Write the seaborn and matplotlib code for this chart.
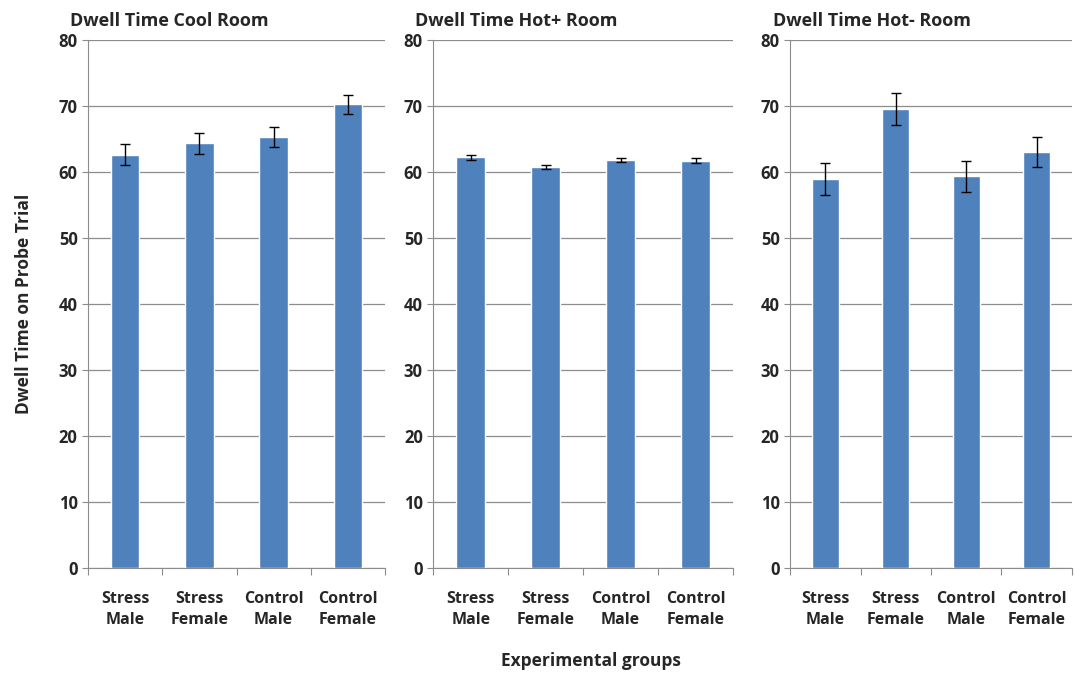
import seaborn as sns
import matplotlib.pyplot as plt
import pandas as pd

groups = ["Stress\nMale", "Stress\nFemale", "Control\nMale", "Control\nFemale"]
titles = ["Dwell Time Cool Room", "Dwell Time Hot+ Room", "Dwell Time Hot- Room"]

cool_mean = [62.6, 64.3, 65.3, 70.2]
cool_err = [1.6, 1.6, 1.5, 1.5]
hotp_mean = [62.2, 60.7, 61.8, 61.7]
hotp_err = [0.4, 0.3, 0.3, 0.4]
hotm_mean = [58.9, 69.5, 59.3, 63.0]
hotm_err = [2.4, 2.4, 2.4, 2.3]

sns.set_style("white")
plt.rcParams['font.family'] = ['Open Sans', 'DejaVu Sans']

fig = plt.figure(figsize=(10.75, 6.75), dpi=100)
positions = [
    [0.082, 0.159, 0.276, 0.782],
    [0.403, 0.159, 0.279, 0.782],
    [0.735, 0.159, 0.262, 0.782],
]
panels = [(cool_mean, cool_err), (hotp_mean, hotp_err), (hotm_mean, hotm_err)]

for pos, title, (means, errs) in zip(positions, titles, panels):
    ax = fig.add_axes(pos)
    df = pd.DataFrame({"group": groups, "value": means})
    sns.barplot(data=df, x="group", y="value", color="#4F81BD", saturation=1,
                width=0.38, errorbar=None, ax=ax, zorder=3)
    ax.errorbar(range(len(groups)), means, yerr=errs, fmt="none", ecolor="black",
                elinewidth=1, capsize=3.5, capthick=1, zorder=4)
    ax.set_ylim(0, 80)
    ax.set_xlim(-0.5, 3.5)
    ax.set_yticks(range(0, 81, 10))
    ax.yaxis.grid(True, color="#8c8c8c", linewidth=0.9, zorder=0)
    ax.set_axisbelow(True)
    for s in ["top", "right"]:
        ax.spines[s].set_visible(False)
    ax.spines["left"].set_color("#8c8c8c")
    ax.spines["bottom"].set_color("#8c8c8c")
    ax.set_xticks([-0.5, 0.5, 1.5, 2.5, 3.5], minor=False)
    ax.set_xticklabels([])
    ax.set_xticks(range(4), minor=True)
    ax.set_xticklabels(groups, minor=True, fontsize=11.5, fontweight="bold", linespacing=1.4)
    ax.tick_params(axis="x", which="major", length=5, color="#8c8c8c", direction="out", bottom=True)
    ax.tick_params(axis="x", which="minor", length=0, pad=17)
    ax.tick_params(axis="y", length=4, color="#8c8c8c", left=True, labelsize=12)
    for lab in ax.get_yticklabels():
        lab.set_fontweight("bold")
    ax.set_xlabel("")
    ax.set_ylabel("")
    ax.set_title(title, loc="left", fontsize=13, fontweight="bold", x=-0.06, pad=10)

fig.text(0.022, 0.55, "Dwell Time on Probe Trial", rotation=90, ha="center", va="center",
         fontsize=12.5, fontweight="bold")
fig.text(0.55, 0.02, "Experimental groups", ha="center", va="center",
         fontsize=12.5, fontweight="bold")

fig.savefig("out.png", dpi=100)
